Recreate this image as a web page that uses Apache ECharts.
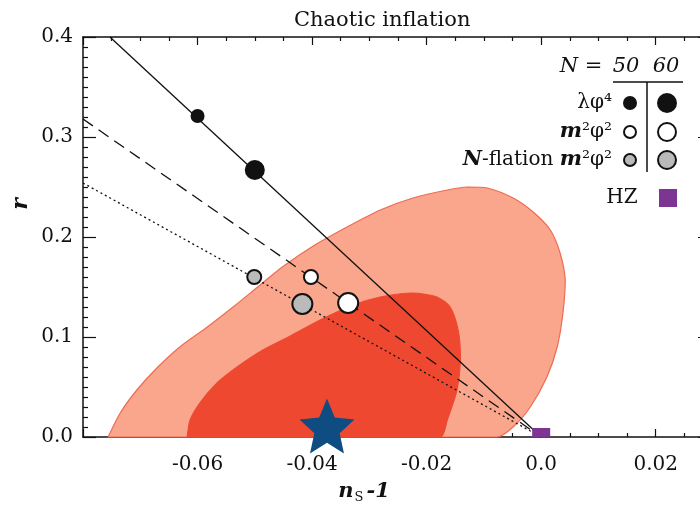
<!DOCTYPE html>
<html>
<head>
<meta charset="utf-8">
<title>Chaotic inflation</title>
<script src="https://cdn.jsdelivr.net/npm/echarts@6/dist/echarts.min.js"></script>
<style>
	html, body { margin: 0; padding: 0; background: #fff; }
	#main { width: 700px; height: 513px; }
</style>
</head>
<body>
<div id="main"></div>
<script>
	// 刻度
	var xTickValues = [-0.06, -0.04, -0.02, 0, 0.02];
	var xTickLabels = ['-0.06', '-0.04', '-0.02', '0.0', '0.02'];
	var yTickValues = [0, 0.1, 0.2, 0.3, 0.4];
	var yTickLabels = ['0.0', '0.1', '0.2', '0.3', '0.4'];

	// 置信区域边界 (ns-1, r)
	var outerContour = [
		[-0.0756, 0.000], [-0.0735, 0.024], [-0.0706, 0.047], [-0.0671, 0.069], [-0.0631, 0.090],
		[-0.0583, 0.110], [-0.0538, 0.130], [-0.0493, 0.151], [-0.0452, 0.170], [-0.0398, 0.191],
		[-0.0339, 0.210], [-0.0281, 0.227], [-0.0224, 0.239], [-0.0164, 0.247], [-0.0129, 0.250],
		[-0.0094, 0.249], [-0.0049, 0.239], [-0.0014, 0.225], [0.0016, 0.207], [0.0033, 0.184],
		[0.0042, 0.157], [0.0038, 0.124], [0.0028, 0.090], [0.0010, 0.060], [-0.0019, 0.030],
		[-0.0049, 0.010], [-0.0077, 0.000]
	];
	var innerContour = [
		[-0.0618, 0.000], [-0.0613, 0.017], [-0.0596, 0.034], [-0.0566, 0.054], [-0.0531, 0.070],
		[-0.0486, 0.087], [-0.0438, 0.101], [-0.0386, 0.117], [-0.0328, 0.132], [-0.0281, 0.140],
		[-0.0224, 0.144], [-0.0182, 0.140], [-0.0159, 0.130], [-0.0145, 0.107], [-0.0141, 0.080],
		[-0.0147, 0.047], [-0.0164, 0.017], [-0.0176, 0.000]
	];

	// 模型预测线
	var lambdaLine = [[-0.0753, 0.400], [0, 0]];
	var m2Line = [[-0.080, 0.318], [0, 0]];
	var nflationLine = [[-0.080, 0.254], [0, 0]];

	// N = 50, N = 60
	var lambdaPoints = [[-0.0600, 0.321], [-0.0500, 0.267]];
	var m2Points = [[-0.0402, 0.160], [-0.0337, 0.134]];
	var nflationPoints = [[-0.0501, 0.160], [-0.0417, 0.133]];
	var bestFit = [[-0.0374, 0.011]];
	var hzPoint = [[0, 0]];

	var serif = 'DejaVu Serif';
	var ink = '#111';

	var chart = echarts.init(document.getElementById('main'));

	function tickText(v, values, labels) {
		for (var i = 0; i < values.length; i++) {
			if (Math.abs(v - values[i]) < 1e-6) return labels[i];
		}
		return '';
	}

	function polygonSeries(points, fill, stroke, z) {
		return {
			type: 'custom',
			coordinateSystem: 'cartesian2d',
			data: points,
			z: z,
			silent: true,
			renderItem: function (params, api) {
				if (params.dataIndex !== 0) return null;
				var pts = points.map(function (p) { return api.coord(p); });
				var xs = pts.map(function (p) { return p[0]; });
				var ys = pts.map(function (p) { return p[1]; });
				return {
					type: 'polygon',
					shape: {
						points: pts,
						smooth: 0.25,
						smoothConstraint: [[Math.min.apply(null, xs), Math.min.apply(null, ys)], [Math.max.apply(null, xs), Math.max.apply(null, ys)]]
					},
					style: { fill: fill, stroke: stroke, lineWidth: 1.2 }
				};
			}
		};
	}

	function lineSeries(data, type) {
		return {
			type: 'line',
			data: data,
			z: 3,
			symbol: 'none',
			silent: true,
			lineStyle: { color: ink, width: 1.3, type: type }
		};
	}

	function pointSeries(data, fill) {
		return {
			type: 'scatter',
			data: data,
			z: 5,
			clip: false,
			symbolSize: function (v, p) { return p.dataIndex === 0 ? 14 : 20; },
			itemStyle: { color: fill, borderColor: ink, borderWidth: fill === ink ? 0 : 2, opacity: 1 }
		};
	}

	var tickStyle = { color: ink, width: 1.2 };

	var option = {
		animation: false,
		title: {
			text: 'Chaotic inflation',
			left: 289,
			top: 5,
			textStyle: { fontFamily: serif, fontSize: 21, fontWeight: 'normal', color: ink }
		},
		// 右侧超出画面, 原图被裁切
		grid: { left: 83, top: 37, width: 630, height: 400, outerBoundsMode: 'none', containLabel: false },
		xAxis: [{
			type: 'value', min: -0.08, max: 0.03, interval: 0.02, position: 'bottom',
			axisLine: { onZero: false, lineStyle: { color: ink, width: 1.5 } },
			axisTick: { inside: true, length: 8, lineStyle: tickStyle },
			minorTick: { show: true, splitNumber: 4, length: 4, lineStyle: tickStyle },
			splitLine: { show: false },
			axisLabel: {
				margin: 18, color: ink, fontFamily: serif, fontSize: 20,
				formatter: function (v) { return tickText(v, xTickValues, xTickLabels); }
			}
		}, {
			type: 'value', min: -0.08, max: 0.03, interval: 0.02, position: 'top',
			axisLine: { onZero: false, lineStyle: { color: ink, width: 1.5 } },
			axisTick: { inside: true, length: 8, lineStyle: tickStyle },
			minorTick: { show: true, splitNumber: 4, length: 4, lineStyle: tickStyle },
			splitLine: { show: false },
			axisLabel: { show: false }
		}],
		yAxis: [{
			type: 'value', min: 0, max: 0.4, interval: 0.1, position: 'left',
			axisLine: { onZero: false, lineStyle: { color: ink, width: 1.5 } },
			axisTick: { inside: true, length: 13, lineStyle: tickStyle },
			minorTick: { show: true, splitNumber: 10, length: 5, lineStyle: tickStyle },
			splitLine: { show: false },
			axisLabel: {
				margin: 10, color: ink, fontFamily: serif, fontSize: 20,
				formatter: function (v) { return tickText(v, yTickValues, yTickLabels); }
			}
		}, {
			type: 'value', min: 0, max: 0.4, interval: 0.1, position: 'right',
			axisLine: { onZero: false, lineStyle: { color: ink, width: 1.5 } },
			axisTick: { inside: true, length: 15, lineStyle: tickStyle },
			minorTick: { show: false },
			splitLine: { show: false },
			axisLabel: { show: false }
		}],
		series: [
			polygonSeries(outerContour, '#f9a68d', '#ee6b52', 1),
			polygonSeries(innerContour, '#ef4830', '#ef4830', 2),
			lineSeries(lambdaLine, 'solid'),
			lineSeries(m2Line, [12, 7]),
			lineSeries(nflationLine, [2, 3]),
			pointSeries(lambdaPoints, ink),
			pointSeries(m2Points, '#ffffff'),
			pointSeries(nflationPoints, '#b9bab9'),
			{
				type: 'custom',
				data: hzPoint,
				z: 6,
				renderItem: function (params, api) {
					var c = api.coord([api.value(0), api.value(1)]);
					var s = 18;
					var rect = echarts.graphic.clipRectByRect(
						{ x: c[0] - s / 2, y: c[1] - s / 2, width: s, height: s },
						{ x: params.coordSys.x, y: params.coordSys.y, width: params.coordSys.width, height: params.coordSys.height }
					);
					return rect && { type: 'rect', shape: rect, style: { fill: '#7d3593' } };
				}
			},
			{
				type: 'scatter',
				data: bestFit,
				z: 7,
				clip: false,
				symbol: 'path://M50,0 L63.5,31.4 L97.6,34.6 L71.9,57.1 L79.4,90.5 L50,73 L20.6,90.5 L28.1,57.1 L2.4,34.6 L36.5,31.4 Z',
				symbolSize: [55, 55],
				itemStyle: { color: '#0e4c82', opacity: 1 }
			}
		],
		graphic: [
			// 坐标轴名称
			{
				type: 'text', x: 21, y: 204, rotation: Math.PI / 2,
				style: { text: 'r', font: 'italic bold 22px "DejaVu Serif"', fill: ink, align: 'center', verticalAlign: 'middle' }
			},
			{
				type: 'text', x: 364, y: 492,
				style: {
					text: '{i|n}{s|S}{i|-1}', fill: ink, align: 'center', verticalAlign: 'middle',
					rich: {
						i: { fontFamily: serif, fontStyle: 'italic', fontWeight: 'bold', fontSize: 21, lineHeight: 24, verticalAlign: 'middle' },
						s: { fontFamily: serif, fontSize: 13, lineHeight: 10, verticalAlign: 'bottom', padding: [0, 3, 0, 1] }
					}
				}
			},
			// 图例
			{
				type: 'text', x: 609, y: 67,
				style: {
					text: '{i|N} = ', fill: ink, align: 'right', verticalAlign: 'middle',
					rich: { i: { fontFamily: serif, fontStyle: 'italic', fontSize: 21 } },
					fontFamily: serif, fontSize: 21
				}
			},
			{ type: 'text', x: 626, y: 67, style: { text: '50', font: 'italic 21px "DejaVu Serif"', fill: ink, align: 'center', verticalAlign: 'middle' } },
			{ type: 'text', x: 666, y: 67, style: { text: '60', font: 'italic 21px "DejaVu Serif"', fill: ink, align: 'center', verticalAlign: 'middle' } },
			{ type: 'line', shape: { x1: 613, y1: 82, x2: 683, y2: 82 }, style: { stroke: ink, lineWidth: 1.5 } },
			{ type: 'line', shape: { x1: 647, y1: 82, x2: 647, y2: 172 }, style: { stroke: ink, lineWidth: 1.5 } },
			{ type: 'text', x: 612, y: 103, style: { text: 'λφ⁴', font: '20px "DejaVu Serif"', fill: ink, align: 'right', verticalAlign: 'middle' } },
			{
				type: 'text', x: 612, y: 132,
				style: {
					text: '{m|m}²φ²', fill: ink, align: 'right', verticalAlign: 'middle', fontFamily: serif, fontSize: 20,
					rich: { m: { fontFamily: serif, fontStyle: 'italic', fontWeight: 'bold', fontSize: 21 } }
				}
			},
			{
				type: 'text', x: 612, y: 160,
				style: {
					text: '{m|N}-flation {m|m}²φ²', fill: ink, align: 'right', verticalAlign: 'middle', fontFamily: serif, fontSize: 20,
					rich: { m: { fontFamily: serif, fontStyle: 'italic', fontWeight: 'bold', fontSize: 21 } }
				}
			},
			{ type: 'text', x: 622, y: 198, style: { text: 'HZ', font: '20px "DejaVu Serif"', fill: ink, align: 'center', verticalAlign: 'middle' } },
			{ type: 'circle', shape: { cx: 630, cy: 103, r: 7 }, style: { fill: ink } },
			{ type: 'circle', shape: { cx: 667, cy: 103, r: 10 }, style: { fill: ink } },
			{ type: 'circle', shape: { cx: 630, cy: 132, r: 6 }, style: { fill: '#fff', stroke: ink, lineWidth: 2 } },
			{ type: 'circle', shape: { cx: 667, cy: 132, r: 9 }, style: { fill: '#fff', stroke: ink, lineWidth: 2 } },
			{ type: 'circle', shape: { cx: 630, cy: 160, r: 6 }, style: { fill: '#b9bab9', stroke: ink, lineWidth: 2 } },
			{ type: 'circle', shape: { cx: 667, cy: 160, r: 9 }, style: { fill: '#b9bab9', stroke: ink, lineWidth: 2 } },
			{ type: 'rect', shape: { x: 659, y: 189, width: 18, height: 18 }, style: { fill: '#7d3593' } }
		]
	};

	chart.setOption(option);
</script>
</body>
</html>
